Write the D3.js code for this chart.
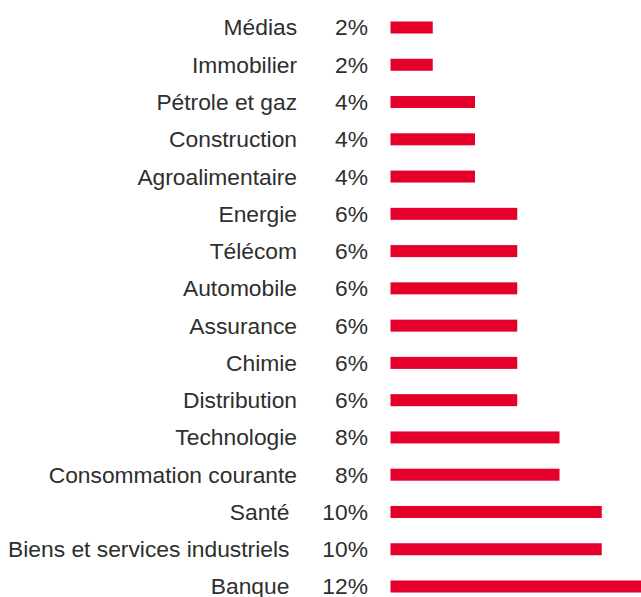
<!DOCTYPE html>
<html><head><meta charset="utf-8">
<script src="https://cdn.jsdelivr.net/npm/d3@7"></script>
<style>body{margin:0;background:#fff}svg{display:block}</style>
</head><body>
<script>
const categories = ["Médias","Immobilier","Pétrole et gaz","Construction","Agroalimentaire","Energie","Télécom","Automobile","Assurance","Chimie","Distribution","Technologie","Consommation courante","Santé","Biens et services industriels","Banque"];
const values = [2,2,4,4,4,6,6,6,6,6,6,8,8,10,10,12];

const W = 641, H = 597;
const svg = d3.select("body").append("svg").attr("width", W).attr("height", H);

const y = d3.scalePoint().domain(categories).range([27.5, 586.5]);
const x = d3.scaleLinear().domain([0, 12]).range([390.5, 644]);
const barH = 12;
const fontFam = "'Liberation Sans', Arial, sans-serif";
const fs = 22.8;

const rows = svg.selectAll("g.row").data(categories).join("g").attr("class","row");

rows.append("rect")
  .attr("x", x(0))
  .attr("y", d => y(d) - barH/2)
  .attr("width", (d,i) => x(values[i]) - x(0))
  .attr("height", barH)
  .attr("fill", "#e4002b");

rows.append("text")
  .attr("x", 368)
  .attr("y", d => y(d))
  .attr("dy", "0.35em")
  .attr("text-anchor", "end")
  .attr("font-family", fontFam)
  .attr("font-size", fs)
  .attr("fill", "#2e2e2e")
  .text((d,i) => values[i] + "%");

rows.each(function(d,i){
  const g = d3.select(this);
  const bb = g.select("text").node().getBBox();
  const gap = String(values[i]).length > 1 ? 33 : 38;
  g.append("text")
    .attr("x", bb.x - gap)
    .attr("y", y(d))
    .attr("dy", "0.35em")
    .attr("text-anchor", "end")
    .attr("font-family", fontFam)
    .attr("font-size", fs)
    .attr("fill", "#2e2e2e")
    .text(d);
});
</script>
</body></html>
